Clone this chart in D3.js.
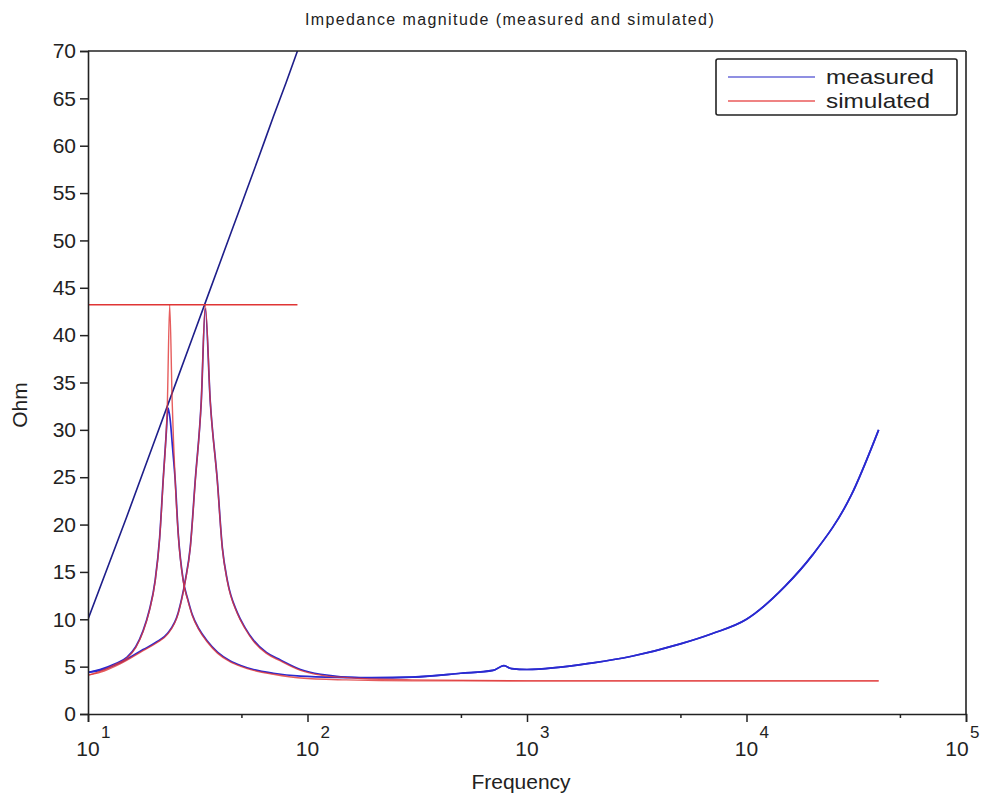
<!DOCTYPE html>
<html>
<head>
<meta charset="utf-8">
<script src="https://cdn.jsdelivr.net/npm/d3@7"></script>
<style>
  html, body { margin: 0; padding: 0; background: #ffffff; }
  svg { display: block; }
  text { font-family: "Liberation Sans", Arial, sans-serif; fill: #222; }
</style>
</head>
<body>
<svg id="chart" width="983" height="796"></svg>
<script>
// ---------------- data ----------------
const titleText = "Impedance magnitude (measured and simulated)";
const xLabel = "Frequency";
const yLabel = "Ohm";
const legendLabels = ["measured", "simulated"];

const xMajorTicks = [10, 100, 1000, 10000, 100000];
const xTickExponents = ["1", "2", "3", "4", "5"];
const xMinorTicks = [50, 500, 5000, 50000];
const yTicks = [0, 5, 10, 15, 20, 25, 30, 35, 40, 45, 50, 55, 60, 65, 70];

// measured: straight reference line (blue)
const measLineFreq = [10, 15, 20, 30, 40, 50, 60, 70, 80, 90];
const measLineOhm  = [10, 20.8, 28.7, 39.8, 47.7, 53.8, 58.8, 63.1, 66.7, 70];

// simulated: horizontal reference line (red)
const simLineFreq = [10, 90];
const simLineOhm  = [43.2, 43.2];

// simulated resonance 1
const sim1Freq = [10, 11.34, 13.3, 15.07, 16.5, 17.83, 19.0, 20.23, 21.2, 22.0, 23.0, 23.56, 24.18, 24.96, 25.76, 27.16, 28.5, 29.85, 32.0, 34.95, 39.0, 44.5, 50.0, 56.7, 69.9, 92.9, 150, 300, 1000, 40000];
const sim1Ohm  = [4.1, 4.5, 5.2, 5.9, 7.0, 8.7, 10.8, 14.0, 18.5, 24.6, 33, 43.2, 33, 24.6, 19, 14.0, 12.0, 10.4, 8.9, 7.6, 6.4, 5.5, 5.0, 4.6, 4.2, 3.8, 3.6, 3.5, 3.5, 3.5];

// measured resonance 1
const meas1Freq = [10, 11.34, 13.3, 15.07, 16.5, 17.83, 19.0, 20.23, 21.2, 22.0, 22.7, 23.19, 23.7, 24.3, 24.96, 25.76, 27.16, 28.5, 29.85, 32.0, 34.95, 39.0, 44.5, 50.0, 56.7, 69.9, 92.9, 150, 200, 300, 500, 700, 785, 850, 1000, 2000, 3000, 5000, 7000, 10000, 15000, 20000, 30000, 40000];
const meas1Ohm  = [4.4, 4.7, 5.3, 6.0, 7.1, 8.8, 10.9, 14.1, 18.6, 24.7, 29.5, 32.3, 31, 28, 24.7, 19.1, 14.1, 12.1, 10.5, 9.0, 7.7, 6.5, 5.6, 5.1, 4.7, 4.3, 4.0, 3.85, 3.8, 3.9, 4.3, 4.6, 5.1, 4.8, 4.7, 5.4, 6.1, 7.4, 8.5, 10.0, 13.5, 16.8, 23.1, 30];

// simulated resonance 2
const sim2Freq = [10, 11.34, 14.0, 17.83, 20.5, 23.0, 25.76, 27.74, 29.23, 30.81, 32.81, 34.22, 36.06, 38.82, 40.92, 43.13, 47.9, 52.0, 56.7, 65.0, 75.3, 92.9, 114.7, 174.6, 300, 1000, 40000];
const sim2Ohm  = [4.1, 4.4, 5.3, 6.7, 7.5, 8.4, 10.6, 14.0, 17.5, 24.6, 33, 43.2, 33, 24.6, 17.5, 14.0, 10.6, 9.0, 7.7, 6.4, 5.6, 4.6, 4.1, 3.75, 3.6, 3.5, 3.5];

// measured resonance 2
const meas2Freq = [10, 11.34, 14.0, 17.83, 20.5, 23.0, 25.76, 27.74, 29.23, 30.81, 32.81, 34.22, 36.06, 38.82, 40.92, 43.13, 47.9, 52.0, 56.7, 65.0, 75.3, 92.9, 114.7, 174.6, 300, 500, 700, 785, 850, 1000, 2000, 3000, 5000, 7000, 10000, 15000, 20000, 30000, 40000];
const meas2Ohm  = [4.4, 4.6, 5.4, 6.8, 7.6, 8.5, 10.7, 14.1, 17.6, 24.7, 33, 42.8, 33, 24.7, 17.6, 14.1, 10.7, 9.1, 7.8, 6.5, 5.7, 4.7, 4.2, 3.85, 3.9, 4.3, 4.6, 5.1, 4.8, 4.7, 5.4, 6.1, 7.4, 8.5, 10.0, 13.5, 16.8, 23.1, 30];

// ---------------- layout ----------------
const W = 983, H = 796;
const margin = { left: 88, right: 17, top: 51, bottom: 82 };
const plotW = W - margin.left - margin.right;
const plotH = H - margin.top - margin.bottom;

const colMeas = "#2a2ad0";
const colMeasLine = "#1e1e8a";
const colSim = "#e03535";

const svg = d3.select("#chart");
const g = svg.append("g").attr("transform", `translate(${margin.left},${margin.top})`);

const x = d3.scaleLog().domain([10, 100000]).range([0, plotW]);
const y = d3.scaleLinear().domain([0, 70]).range([plotH, 0]);

const line = d3.line().x(d => x(d[0])).y(d => y(d[1])).curve(d3.curveMonotoneX);
const straight = d3.line().x(d => x(d[0])).y(d => y(d[1]));
const zip = (a, b) => a.map((v, i) => [v, b[i]]);

// clip
svg.append("defs").append("clipPath").attr("id", "clip")
  .append("rect").attr("x", 0).attr("y", 0).attr("width", plotW).attr("height", plotH);
const plot = g.append("g").attr("clip-path", "url(#clip)");

// series
plot.append("path").datum(zip(meas1Freq, meas1Ohm)).attr("d", line)
  .attr("fill", "none").attr("stroke", colMeas).attr("stroke-width", 1.7);
plot.append("path").datum(zip(meas2Freq, meas2Ohm)).attr("d", line)
  .attr("fill", "none").attr("stroke", colMeas).attr("stroke-width", 1.7);
plot.append("path").datum(zip(measLineFreq, measLineOhm)).attr("d", line)
  .attr("fill", "none").attr("stroke", colMeasLine).attr("stroke-width", 1.6);
plot.append("path").datum(zip(sim1Freq, sim1Ohm)).attr("d", line)
  .attr("fill", "none").attr("stroke", colSim).attr("stroke-width", 1.4).attr("stroke-opacity", 0.8);
plot.append("path").datum(zip(sim2Freq, sim2Ohm)).attr("d", line)
  .attr("fill", "none").attr("stroke", colSim).attr("stroke-width", 1.4).attr("stroke-opacity", 0.8);
plot.append("path").datum(zip(simLineFreq, simLineOhm)).attr("d", straight)
  .attr("fill", "none").attr("stroke", colSim).attr("stroke-width", 1.5);

// frame (top and right)
g.append("line").attr("x1", 0).attr("x2", plotW).attr("y1", 0).attr("y2", 0)
  .attr("stroke", "#222").attr("stroke-width", 1.6);
g.append("line").attr("x1", plotW).attr("x2", plotW).attr("y1", 0).attr("y2", plotH)
  .attr("stroke", "#222").attr("stroke-width", 1.6);

// y axis
const yAxis = g.append("g").call(d3.axisLeft(y).tickValues(yTicks).tickSize(8).tickPadding(4).tickFormat(d3.format("d")));
yAxis.select(".domain").attr("stroke", "#222").attr("stroke-width", 1.6);
yAxis.selectAll(".tick line").attr("stroke", "#222").attr("stroke-width", 1.5);
yAxis.selectAll(".tick text").attr("font-size", 21).attr("fill", "#222")
  .style("font-family", "'Liberation Sans',Arial,sans-serif");

// x axis
const xAxisG = g.append("g").attr("transform", `translate(0,${plotH})`);
xAxisG.call(d3.axisBottom(x).tickValues(xMajorTicks).tickSize(8).tickFormat(""));
xAxisG.select(".domain").attr("stroke", "#222").attr("stroke-width", 1.6);
xAxisG.selectAll(".tick line").attr("stroke", "#222").attr("stroke-width", 1.5);
const xMinorG = g.append("g").attr("transform", `translate(0,${plotH})`);
xMinorG.call(d3.axisBottom(x).tickValues(xMinorTicks).tickSize(4).tickFormat(""));
xMinorG.select(".domain").remove();
xMinorG.selectAll(".tick line").attr("stroke", "#222").attr("stroke-width", 1.5);

// x tick labels: 10 with superscript exponent
xMajorTicks.forEach((t, i) => {
  const last = i === xMajorTicks.length - 1;
  const tx = x(t) - (last ? 9 : 0);
  g.append("text").attr("x", tx).attr("y", plotH + 42)
    .attr("text-anchor", "middle").attr("font-size", 21).text("10");
  g.append("text").attr("x", tx + 13).attr("y", plotH + 24)
    .attr("text-anchor", "start").attr("font-size", 17).text(xTickExponents[i]);
});

// axis titles
svg.append("text").attr("x", 521).attr("y", 789).attr("text-anchor", "middle")
  .attr("font-size", 21).text(xLabel);
svg.append("text").attr("transform", "translate(27,405) rotate(-90)")
  .attr("text-anchor", "middle").attr("font-size", 21).text(yLabel);

// title
svg.append("text").attr("x", 510).attr("y", 25).attr("text-anchor", "middle")
  .attr("font-size", 16).attr("letter-spacing", "1.4px")
  .text(titleText);

// legend
const leg = svg.append("g");
leg.append("rect").attr("x", 716).attr("y", 59).attr("width", 241).attr("height", 56)
  .attr("rx", 2).attr("fill", "#fff").attr("stroke", "#222").attr("stroke-width", 1.6);
const legCols = ["#6a6ad8", "#ea5a5a"];
legendLabels.forEach((lab, i) => {
  const ly = 77 + i * 24;
  leg.append("line").attr("x1", 728).attr("x2", 815).attr("y1", ly).attr("y2", ly)
    .attr("stroke", legCols[i]).attr("stroke-width", 1.6);
  leg.append("text").attr("x", 826).attr("y", ly + 7).attr("font-size", 21)
    .attr("textLength", i === 0 ? 108 : 104).attr("lengthAdjust", "spacingAndGlyphs").text(lab);
});
</script>
</body>
</html>
